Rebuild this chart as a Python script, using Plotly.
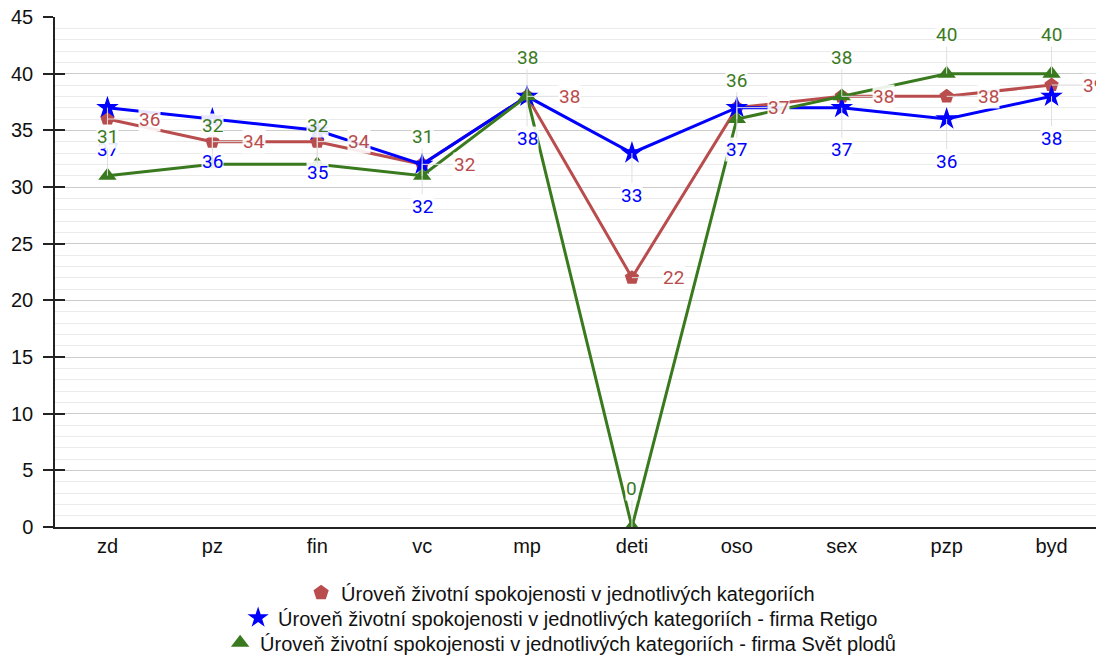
import plotly.graph_objects as go

categories = ["zd", "pz", "fin", "vc", "mp", "deti", "oso", "sex", "pzp", "byd"]
overall = [36, 34, 34, 32, 38, 22, 37, 38, 38, 39]
retigo = [37, 36, 35, 32, 38, 33, 37, 37, 36, 38]
svet_plodu = [31, 32, 32, 31, 38, 0, 36, 38, 40, 40]

names = [
    "Úroveň životní spokojenosti v jednotlivých kategoriích",
    "Úroveň životní spokojenosti v jednotlivých kategoriích - firma Retigo",
    "Úroveň životní spokojenosti v jednotlivých kategoriích - firma Svět plodů",
]
colors = ["#b94c4c", "#0000ff", "#3a7a1f"]
symbols = ["pentagon", "star", "triangle-up"]
marker_sizes = [15, 17, 16]
series = [overall, retigo, svet_plodu]
offsets = [(42, 0), (0, 42), (0, -39)]
legends = ["legend", "legend2", "legend3"]

FONT = "Roboto"
AX_FONT = "Liberation Sans"
fig = go.Figure()

for vals, name, col, sym, ms in zip(series, names, colors, symbols, marker_sizes):
    fig.add_trace(go.Scatter(
        x=categories, y=vals, mode="lines+markers", name=name,
        line=dict(color=col, width=3),
        marker=dict(symbol=sym, size=ms, color=col),
        showlegend=False, hoverinfo="skip",
    ))

for name, col, sym, lg in zip(names, colors, symbols, legends):
    fig.add_trace(go.Scatter(
        x=[None], y=[None], mode="markers", name=name,
        marker=dict(symbol=sym, size=19, color=col),
        legend=lg, showlegend=True,
    ))

annotations = []
for vals, col, (ax, ay) in zip(series, colors, offsets):
    for c, v in zip(categories, vals):
        annotations.append(dict(
            x=c, y=v, xref="x", yref="y", text=str(v),
            showarrow=True, arrowhead=0, arrowwidth=1, arrowcolor="#e0e0e0",
            ax=ax, ay=ay, standoff=0,
            font=dict(family=FONT, size=19, color=col),
            bgcolor="rgba(255,255,255,0.9)", borderpad=0,
        ))

legend_common = dict(x=0.482, xanchor="center", yanchor="middle",
                     font=dict(family=AX_FONT, size=20, color="#111"),
                     bgcolor="rgba(0,0,0,0)", itemwidth=30)

# page body has an 8px default margin; size the figure to fit the window
fig.update_layout(
    width=1096, height=651,
    margin=dict(l=47, r=0, t=9, b=132, autoexpand=False),
    plot_bgcolor="white", paper_bgcolor="white",
    font=dict(family=AX_FONT, size=20, color="#111"),
    annotations=annotations,
    legend=dict(y=-0.129, **legend_common),
    legend2=dict(y=-0.178, **legend_common),
    legend3=dict(y=-0.227, **legend_common),
    xaxis=dict(
        type="category", range=[-0.5, 9.5], showgrid=False, automargin=False,
        showline=True, linecolor="#222", linewidth=1.5,
        ticks="", tickfont=dict(family=AX_FONT, size=20, color="#111"),
        zeroline=False,
    ),
    yaxis=dict(
        range=[0, 45], tickmode="array",
        tickvals=[0, 5, 10, 15, 20, 25, 30, 35, 40, 45],
        showgrid=True, gridcolor="#cccccc", gridwidth=1,
        minor=dict(dtick=1, showgrid=True, gridcolor="#ebebeb", gridwidth=1),
        showline=True, linecolor="#222", linewidth=1.5, automargin=False,
        ticks="outside", ticklen=10, tickcolor="#222", tickwidth=1.5,
        ticklabelstandoff=6, ticklabeloverflow="allow",
        tickfont=dict(family=AX_FONT, size=20, color="#111"),
        zeroline=False,
    ),
    yaxis2=dict(
        range=[0, 45], dtick=5, overlaying="y", side="left", anchor="x",
        showgrid=False, showticklabels=False, ticks="inside", ticklen=10,
        tickcolor="#222", tickwidth=1.5, zeroline=False, showline=False,
        automargin=False,
    ),
)

fig.add_trace(go.Scatter(x=[None], y=[None], yaxis="y2", showlegend=False))

fig.write_html("out.html")
